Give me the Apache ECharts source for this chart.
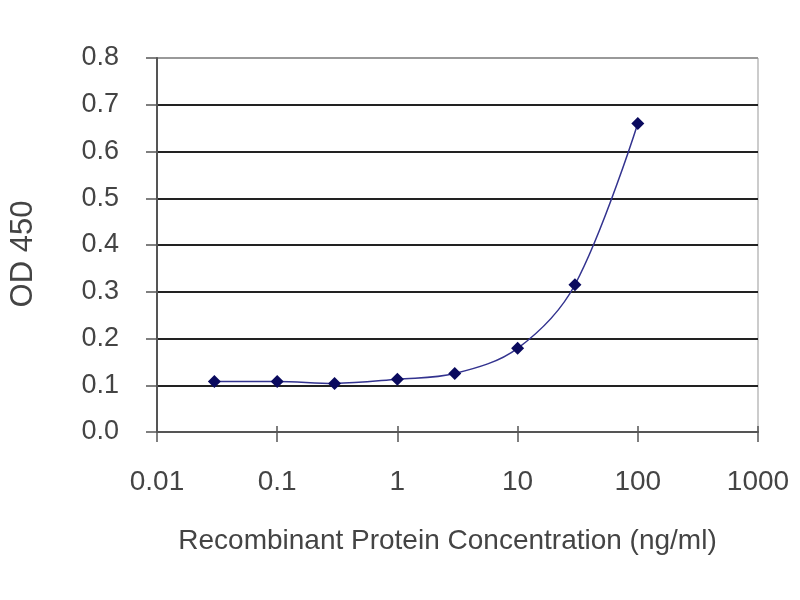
<!DOCTYPE html>
<html>
<head>
<meta charset="utf-8">
<script src="https://cdn.jsdelivr.net/npm/echarts@6/dist/echarts.min.js"></script>
<style>
  html, body { margin: 0; padding: 0; background: #fff; }
  #chart { width: 800px; height: 600px; }
</style>
</head>
<body>
<div id="chart"></div>
<script>
// ELISA standard curve: OD 450 vs. concentration (log scale)
const conc = [0.03, 0.1, 0.3, 1, 3, 10, 30, 100];
const od = [0.108, 0.108, 0.104, 0.113, 0.125, 0.179, 0.315, 0.66];
const xTickLabels = ['0.01', '0.1', '1', '10', '100', '1000'];
const yTickLabels = ['0.0', '0.1', '0.2', '0.3', '0.4', '0.5', '0.6', '0.7', '0.8'];

const font = 'Liberation Sans, Arial, sans-serif';
const textColor = '#444';

const chart = echarts.init(document.getElementById('chart'));
chart.setOption({
  animation: false,
  grid: { left: 157, right: 42, top: 58, bottom: 168, show: true, borderColor: '#999', borderWidth: 1 },
  xAxis: [
    {
      type: 'log', logBase: 10, min: 0.01, max: 1000,
      name: 'Recombinant Protein Concentration (ng/ml)', nameLocation: 'middle', nameGap: 95,
      nameTextStyle: { fontFamily: font, fontSize: 28, color: textColor, padding: [0, 20, 0, 0] },
      axisLine: { lineStyle: { color: '#555', width: 2 } },
      axisTick: { length: 10, lineStyle: { color: '#555', width: 1.5 } },
      axisLabel: {
        margin: 36, fontFamily: font, fontSize: 28, color: textColor,
        formatter: v => xTickLabels[Math.round(Math.log10(v)) + 2]
      },
      splitLine: { show: false }
    },
    {
      // inner half of the crossing ticks
      type: 'log', logBase: 10, min: 0.01, max: 1000, position: 'bottom',
      axisLine: { show: false },
      axisTick: { inside: true, length: 6, lineStyle: { color: '#555', width: 1.5 } },
      axisLabel: { show: false },
      splitLine: { show: false }
    }
  ],
  yAxis: {
    type: 'value', min: 0, max: 0.8, interval: 0.1,
    name: 'OD 450', nameLocation: 'middle', nameGap: 118, nameRotate: 90,
    nameTextStyle: { fontFamily: font, fontSize: 31, color: textColor, padding: [0, 18, 0, 0] },
    axisLine: { show: true, lineStyle: { color: '#555', width: 2 } },
    axisTick: { show: true, length: 11, lineStyle: { color: '#555', width: 1.5 } },
    axisLabel: {
      margin: 38, fontFamily: font, fontSize: 27, color: textColor,
      formatter: v => yTickLabels[Math.round(v * 10)]
    },
    splitLine: {
      lineStyle: {
        width: 2,
        color: ['#555', '#222', '#222', '#222', '#222', '#222', '#222', '#222', '#999']
      }
    }
  },
  series: [{
    type: 'line',
    data: conc.map((c, i) => [c, od[i]]),
    smooth: 0.35,
    symbol: 'diamond',
    symbolSize: 13,
    itemStyle: { color: '#0a0a5e' },
    lineStyle: { color: '#33338f', width: 1.5 }
  }]
});
</script>
</body>
</html>
